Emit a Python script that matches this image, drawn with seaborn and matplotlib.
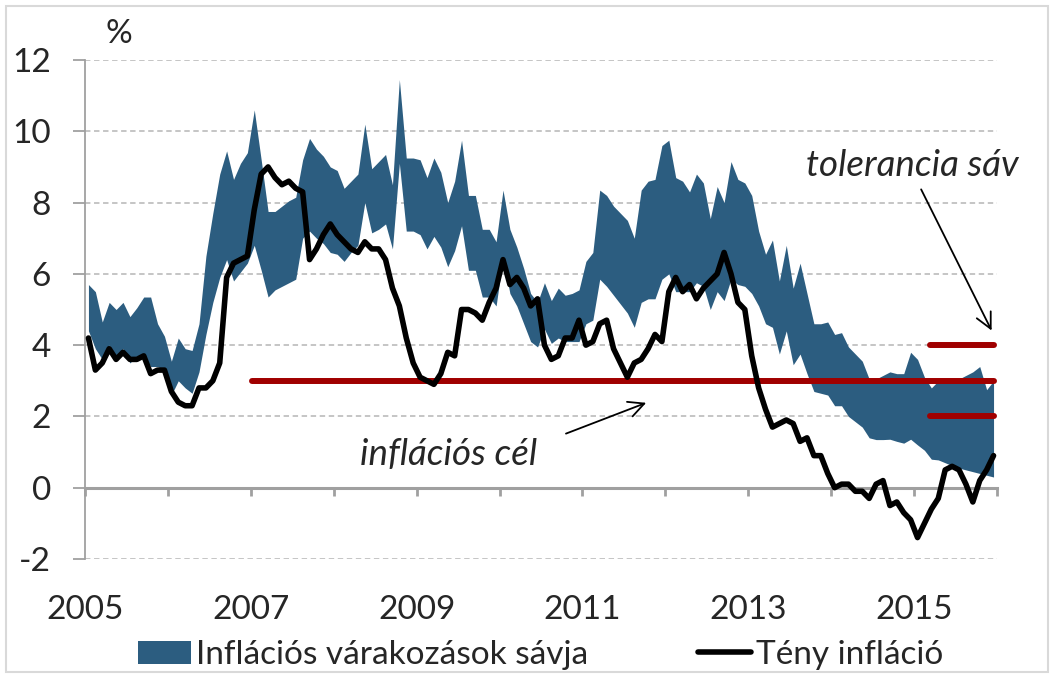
import numpy as np
import pandas as pd
import matplotlib
matplotlib.use("Agg")
import matplotlib.pyplot as plt
import seaborn as sns
from matplotlib.patches import Patch, Rectangle
from matplotlib.lines import Line2D

# havi adatok 2005 jan - 2015 dec
months = pd.date_range("2005-01-01", "2015-12-01", freq="MS")

teny_inflacio = [
    4.2, 3.3, 3.5, 3.9, 3.6, 3.8, 3.6, 3.6, 3.7, 3.2, 3.3, 3.3,
    2.7, 2.4, 2.3, 2.3, 2.8, 2.8, 3.0, 3.5, 5.9, 6.3, 6.4, 6.5,
    7.8, 8.8, 9.0, 8.7, 8.5, 8.6, 8.4, 8.3, 6.4, 6.7, 7.1, 7.4,
    7.1, 6.9, 6.7, 6.6, 6.9, 6.7, 6.7, 6.4, 5.6, 5.1, 4.2, 3.5,
    3.1, 3.0, 2.9, 3.2, 3.8, 3.7, 5.0, 5.0, 4.9, 4.7, 5.2, 5.6,
    6.4, 5.7, 5.9, 5.6, 5.1, 5.3, 4.0, 3.6, 3.7, 4.2, 4.2, 4.7,
    4.0, 4.1, 4.6, 4.7, 3.9, 3.5, 3.1, 3.5, 3.6, 3.9, 4.3, 4.1,
    5.5, 5.9, 5.5, 5.7, 5.3, 5.6, 5.8, 6.0, 6.6, 6.0, 5.2, 5.0,
    3.7, 2.8, 2.2, 1.7, 1.8, 1.9, 1.8, 1.3, 1.4, 0.9, 0.9, 0.4,
    0.0, 0.1, 0.1, -0.1, -0.1, -0.3, 0.1, 0.2, -0.5, -0.4, -0.7, -0.9,
    -1.4, -1.0, -0.6, -0.3, 0.5, 0.6, 0.5, 0.1, -0.4, 0.2, 0.5, 0.9,
]

sav_felso = [
    5.7, 5.5, 4.65, 5.2, 5.0, 5.2, 4.8, 5.05, 5.35, 5.35, 4.6, 4.25,
    3.55, 4.2, 3.9, 3.85, 4.6, 6.5, 7.7, 8.8, 9.45, 8.65, 9.1, 9.4,
    10.6, 9.2, 7.75, 7.75, 7.9, 8.05, 8.15, 9.2, 9.8, 9.5, 9.3, 9.0,
    8.9, 8.4, 8.6, 8.8, 10.2, 8.95, 9.15, 9.35, 8.5, 11.45, 9.25, 9.25,
    9.2, 8.7, 9.25, 8.85, 8.0, 8.6, 9.75, 8.2, 8.2, 7.25, 7.25, 6.9,
    8.35, 7.25, 6.75, 6.15, 5.45, 5.2, 5.75, 5.25, 5.6, 5.4, 5.45, 5.55,
    6.35, 6.6, 8.35, 8.2, 7.9, 7.7, 7.5, 7.0, 8.35, 8.6, 8.65, 9.6,
    9.75, 8.7, 8.6, 8.3, 8.8, 8.55, 7.55, 8.45, 8.0, 9.15, 8.65, 8.55,
    8.2, 7.2, 6.55, 6.95, 5.8, 6.8, 5.6, 6.3, 5.45, 4.6, 4.6, 4.65,
    4.3, 4.35, 3.95, 3.75, 3.55, 3.05, 3.05, 3.15, 3.25, 3.2, 3.2, 3.8,
    3.6, 3.1, 2.8, 3.0, 2.95, 3.0, 3.05, 3.15, 3.25, 3.4, 2.75, 3.0,
]

sav_also = [
    4.4, 3.9, 3.6, 4.0, 3.7, 3.9, 3.5, 3.7, 3.7, 3.4, 3.4, 3.3,
    2.6, 3.0, 2.8, 2.65, 3.25, 4.3, 5.2, 5.9, 6.4, 5.8, 6.05, 6.3,
    6.8, 6.1, 5.35, 5.55, 5.65, 5.75, 5.85, 7.0, 7.2, 7.0, 6.85, 6.6,
    6.55, 6.35, 6.6, 6.8, 8.0, 7.15, 7.25, 7.4, 6.7, 9.1, 7.2, 7.2,
    7.1, 6.7, 7.05, 6.75, 6.2, 6.65, 7.35, 6.1, 6.1, 5.35, 5.35, 5.1,
    6.45, 5.45, 5.1, 4.6, 4.1, 3.95, 4.45, 4.05, 4.2, 4.1, 4.1, 4.1,
    4.6, 4.7, 5.85, 5.65, 5.4, 5.15, 4.9, 4.5, 5.2, 5.3, 5.3, 5.85,
    6.0, 5.5, 5.5, 5.5, 5.75, 5.65, 5.0, 5.5, 5.25, 5.85, 5.7, 5.65,
    5.45, 5.1, 4.6, 4.5, 3.75, 4.4, 3.45, 3.75, 3.2, 2.7, 2.65, 2.6,
    2.3, 2.3, 2.0, 1.85, 1.7, 1.4, 1.35, 1.35, 1.36, 1.3, 1.25, 1.36,
    1.2, 1.05, 0.8, 0.78, 0.7, 0.62, 0.55, 0.5, 0.45, 0.4, 0.35, 0.3,
]

cel_evek = [2007.02, 2015.96]
cel = 3
tol_evek = [2015.19, 2015.96]
tol_felso = 4
tol_also = 2

ev_tickek = list(range(2005, 2017))
ev_cimkek = [2005, 2007, 2009, 2011, 2013, 2015]
y_tickek = [-2, 0, 2, 4, 6, 8, 10, 12]

df = pd.DataFrame({
    "ev": months.year + (months.month - 0.5) / 12,
    "teny": teny_inflacio,
    "felso": sav_felso,
    "also": sav_also,
})

sns.set_style("white")
plt.rcParams["font.family"] = ["Lato", "DejaVu Sans"]
plt.rcParams["axes.unicode_minus"] = False

kek = "#2c5d80"
piros = "#a00000"
szurke = "#a0a0a0"
fs = 24

fig = plt.figure(figsize=(10.54, 6.78), dpi=100)
ax = fig.add_axes([85 / 1054, 1 - 559 / 678, (997 - 85) / 1054, (559 - 60) / 678])

ax.fill_between(df["ev"], df["also"], df["felso"], color=kek, lw=0, zorder=2)
ax.plot(cel_evek, [cel, cel], color=piros, lw=4.3, solid_capstyle="round", zorder=3)
ax.plot(tol_evek, [tol_felso, tol_felso], color=piros, lw=4.3, solid_capstyle="round", zorder=3)
ax.plot(tol_evek, [tol_also, tol_also], color=piros, lw=4.3, solid_capstyle="round", zorder=3)
sns.lineplot(data=df, x="ev", y="teny", color="black", lw=4.0, ax=ax, legend=False, zorder=4)

ax.set_xlim(2005, 2016)
ax.set_ylim(-2, 12)
ax.set_xlabel("")
ax.set_ylabel("")

ax.set_yticks(y_tickek)
ax.yaxis.grid(True, ls=(0, (3, 2)), color="#c0c0c0", lw=1.3, zorder=0)
ax.xaxis.grid(False)
for s in ["top", "right"]:
    ax.spines[s].set_visible(False)
ax.spines["left"].set_color(szurke)
ax.spines["left"].set_linewidth(1.3)
ax.spines["bottom"].set_position(("data", 0))
ax.spines["bottom"].set_color(szurke)
ax.spines["bottom"].set_linewidth(2.2)
ax.spines["bottom"].set_zorder(1)

ax.set_xticks(ev_tickek)
ax.tick_params(axis="x", direction="out", length=6, width=2, color=szurke, labelbottom=False, bottom=True)
ax.tick_params(axis="y", direction="out", length=8.5, width=1.3, color=szurke, left=True,
               labelsize=fs, pad=16)

sec = ax.secondary_xaxis(0)
sec.set_xticks(ev_cimkek)
sec.set_xticklabels([str(e) for e in ev_cimkek])
sec.tick_params(length=0, labelsize=fs, pad=26)
sec.spines["bottom"].set_visible(False)

ax.text(0.037, 1.052, "%", transform=ax.transAxes, fontsize=fs, ha="center", va="center")

ax.annotate("", xy=(2011.8, 2.41), xytext=(2010.77, 1.49),
            arrowprops=dict(arrowstyle="->", lw=1.3, color="black", mutation_scale=28))
ax.text(2009.38, 0.92, "inflációs cél", fontsize=26.5, style="italic", ha="center", va="center")
ax.annotate("", xy=(2015.95, 4.34), xytext=(2015.07, 8.44),
            arrowprops=dict(arrowstyle="->", lw=1.3, color="black", mutation_scale=28))
ax.text(2014.98, 9.05, "tolerancia sáv", fontsize=26.5, style="italic", ha="center", va="center")

handles = [Patch(facecolor=kek, edgecolor="none"), Line2D([0], [0], color="black", lw=4.0)]
fig.legend(handles, ["Inflációs várakozások sávja", "Tény infláció"], loc="center",
           bbox_to_anchor=(0.513, 1 - 655 / 678), ncol=2, frameon=False, fontsize=fs,
           handlelength=1.6, handleheight=0.67, handletextpad=0.15, columnspacing=3.3)

fig.add_artist(Rectangle((6 / 1054, 6 / 678), 1042 / 1054, 666 / 678, transform=fig.transFigure,
                         fill=False, edgecolor="#d9d9d9", lw=1.5))

fig.savefig("out.png", dpi=100)
